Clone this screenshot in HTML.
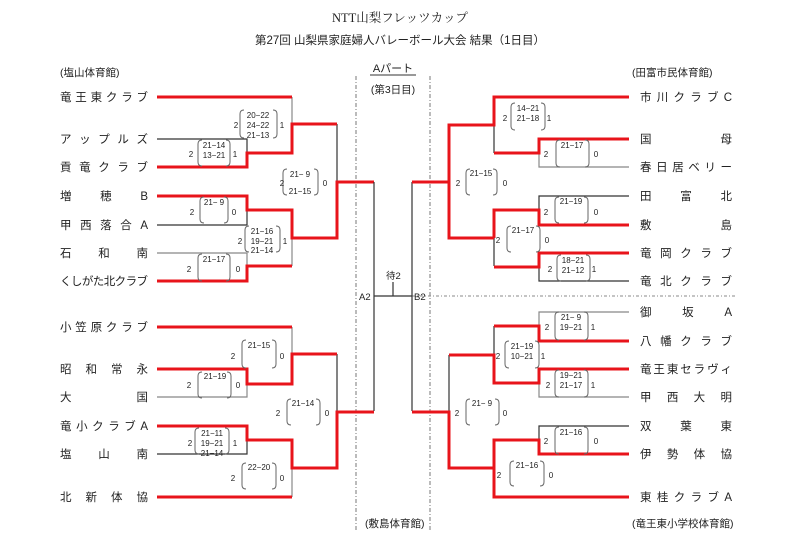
<!DOCTYPE html>
<html><head><meta charset="utf-8"><style>
html,body{margin:0;padding:0;background:#fff}
svg{display:block}
text{font-family:"Liberation Sans","Noto Sans CJK JP",sans-serif;fill:#222}
.t{font-family:"Liberation Serif","Noto Serif CJK SC",serif}
.n{font-size:11.5px}
.s{font-size:8px;fill:#333}
.r{stroke:#e8141b;stroke-width:3;fill:none}
.k{stroke:#333;stroke-width:1.2;fill:none}
.g{stroke:#888;stroke-width:1.2;fill:none}
.b{stroke:#666;stroke-width:1;fill:none}
</style></head><body>
<svg width="800" height="555" viewBox="0 0 800 555" xmlns="http://www.w3.org/2000/svg">
<text class="t" x="400" y="22" text-anchor="middle" style="font-size:12.5px">NTT山梨フレッツカップ</text>
<text x="400" y="44" text-anchor="middle" style="font-size:11.5px">第27回 山梨県家庭婦人バレーボール大会 結果（1日目）</text>
<text x="393" y="72" text-anchor="middle" style="font-size:11px">Aパート</text>
<line x1="370" y1="75" x2="416" y2="75" stroke="#333" stroke-width="1"/>
<text x="393" y="93" text-anchor="middle" style="font-size:10.5px">(第3日目)</text>
<text x="60" y="76" style="font-size:10.5px">(塩山体育館)</text>
<text x="632" y="76" style="font-size:10.5px">(田富市民体育館)</text>
<text x="365" y="527" style="font-size:10.5px">(敷島体育館)</text>
<text x="632" y="527" style="font-size:10.5px">(竜王東小学校体育館)</text>
<line x1="356" y1="76" x2="356" y2="532" stroke="#777" stroke-width="1" stroke-dasharray="4,2,1,2"/>
<line x1="430" y1="76" x2="430" y2="532" stroke="#777" stroke-width="1" stroke-dasharray="4,2,1,2"/>
<line x1="412" y1="296" x2="735" y2="296" stroke="#888" stroke-width="1" stroke-dasharray="3,2,1,2"/>

<g class="n">
<text x="60" y="101" textLength="88" lengthAdjust="spacing">竜王東クラブ</text>
<text x="60" y="143" textLength="88" lengthAdjust="spacing">アップルズ</text>
<text x="60" y="171" textLength="88" lengthAdjust="spacing">貢竜クラブ</text>
<text x="60" y="200" textLength="88" lengthAdjust="spacing">増穂B</text>
<text x="60" y="229" textLength="88" lengthAdjust="spacing">甲西落合A</text>
<text x="60" y="257" textLength="88" lengthAdjust="spacing">石和南</text>
<text x="60" y="285" textLength="88" lengthAdjust="spacing">くしがた北クラブ</text>
<text x="60" y="331" textLength="88" lengthAdjust="spacing">小笠原クラブ</text>
<text x="60" y="373" textLength="88" lengthAdjust="spacing">昭和常永</text>
<text x="60" y="401" textLength="88" lengthAdjust="spacing">大国</text>
<text x="60" y="430" textLength="88" lengthAdjust="spacing">竜小クラブA</text>
<text x="60" y="458" textLength="88" lengthAdjust="spacing">塩山南</text>
<text x="60" y="501" textLength="88" lengthAdjust="spacing">北新体協</text>
</g>
<g class="n">
<text x="640" y="101" textLength="92" lengthAdjust="spacing">市川クラブC</text>
<text x="640" y="143" textLength="92" lengthAdjust="spacing">国母</text>
<text x="640" y="171" textLength="92" lengthAdjust="spacing">春日居ベリー</text>
<text x="640" y="200" textLength="92" lengthAdjust="spacing">田富北</text>
<text x="640" y="229" textLength="92" lengthAdjust="spacing">敷島</text>
<text x="640" y="257" textLength="92" lengthAdjust="spacing">竜岡クラブ</text>
<text x="640" y="285" textLength="92" lengthAdjust="spacing">竜北クラブ</text>
<text x="640" y="316" textLength="92" lengthAdjust="spacing">御坂A</text>
<text x="640" y="345" textLength="92" lengthAdjust="spacing">八幡クラブ</text>
<text x="640" y="373" textLength="92" lengthAdjust="spacing">竜王東セラヴィ</text>
<text x="640" y="401" textLength="92" lengthAdjust="spacing">甲西大明</text>
<text x="640" y="430" textLength="92" lengthAdjust="spacing">双葉東</text>
<text x="640" y="458" textLength="92" lengthAdjust="spacing">伊勢体協</text>
<text x="640" y="501" textLength="92" lengthAdjust="spacing">東桂クラブA</text>
</g>

<path class="g" d="M292 97V124"/>
<path class="k" d="M157 139H247V153"/>
<path class="k" d="M157 225H247V210"/>
<path class="g" d="M157 253H247V266"/>
<path class="g" d="M292 238V266"/>
<path class="k" d="M337 124V182"/>
<path class="r" d="M157 97H292"/>
<path class="r" d="M157 167H247V153H292V124H337"/>
<path class="r" d="M157 196H247V210H292V238H337V182H374"/>
<path class="r" d="M157 281H247V266H292"/>
<path class="g" d="M292 327V354"/>
<path class="g" d="M157 397H247V384"/>
<path class="k" d="M157 454H247V440"/>
<path class="g" d="M292 468V497"/>
<path class="k" d="M337 354V412"/>
<path class="r" d="M157 327H292"/>
<path class="r" d="M157 369H247V384H292V354H337"/>
<path class="r" d="M157 426H247V440H292V468H337V412H374"/>
<path class="r" d="M157 497H292"/>
<path class="k" d="M374 182V411M412 182V411M374 296H412M393 282V296"/>
<text x="386" y="279" style="font-size:9.5px">待2</text>
<text x="359" y="300" style="font-size:9.5px">A2</text>
<text x="414" y="300" style="font-size:9.5px">B2</text>
<path class="k" d="M494 125V153"/>
<path class="g" d="M629 167H539V153"/>
<path class="k" d="M629 196H539V210"/>
<path class="k" d="M494 238V266"/>
<path class="k" d="M629 281H539V267"/>
<path class="r" d="M629 97H494V125H449V238H494"/>
<path class="r" d="M412 182H449"/>
<path class="r" d="M629 139H539V153H494"/>
<path class="r" d="M629 225H539V210H494V238"/>
<path class="r" d="M629 253H539V267H494"/>
<path class="g" d="M629 312H539V326"/>
<path class="k" d="M494 326V355"/>
<path class="g" d="M629 397H539V383"/>
<path class="k" d="M449 355V412"/>
<path class="k" d="M629 426H539V440"/>
<path class="r" d="M629 341H539V326H494"/>
<path class="r" d="M449 355H494V383H539V369H629"/>
<path class="r" d="M412 412H449V468H494V497H629"/>
<path class="r" d="M629 454H539V440H494V468"/>

<g class="b">
<path d="M244 110Q240 110 240 114V134Q240 138 244 138M273 110Q277 110 277 114V134Q277 138 273 138"/>
<path d="M202 140Q198 140 198 144V162Q198 166 202 166M226 140Q230 140 230 144V162Q230 166 226 166"/>
<path d="M287 169Q283 169 283 173V191Q283 195 287 195M314 169Q318 169 318 173V191Q318 195 314 195"/>
<path d="M204 197Q200 197 200 201V219Q200 223 204 223M224 197Q228 197 228 201V219Q228 223 224 223"/>
<path d="M249 226Q245 226 245 230V248Q245 252 249 252M276 226Q280 226 280 230V248Q280 252 276 252"/>
<path d="M202 254Q198 254 198 258V277Q198 281 202 281M226 254Q230 254 230 258V277Q230 281 226 281"/>
<path d="M246 340Q242 340 242 344V364Q242 368 246 368M272 340Q276 340 276 344V364Q276 368 272 368"/>
<path d="M202 372Q198 372 198 376V394Q198 398 202 398M227 372Q231 372 231 376V394Q231 398 227 398"/>
<path d="M291 399Q287 399 287 403V421Q287 425 291 425M316 399Q320 399 320 403V421Q320 425 316 425"/>
<path d="M199 428Q195 428 195 432V450Q195 454 199 454M225 428Q229 428 229 432V450Q229 454 225 454"/>
<path d="M246 463Q242 463 242 467V485Q242 489 246 489M272 463Q276 463 276 467V485Q276 489 272 489"/>
<path d="M515 103Q511 103 511 107V126Q511 130 515 130M541 103Q545 103 545 107V126Q545 130 541 130"/>
<path d="M560 140Q556 140 556 144V163Q556 167 560 167M585 140Q589 140 589 144V163Q589 167 585 167"/>
<path d="M470 169Q466 169 466 173V191Q466 195 470 195M493 169Q497 169 497 173V191Q497 195 493 195"/>
<path d="M559 197Q555 197 555 201V219Q555 223 559 223M584 197Q588 197 588 201V219Q588 223 584 223"/>
<path d="M511 226Q507 226 507 230V248Q507 252 511 252M536 226Q540 226 540 230V248Q540 252 536 252"/>
<path d="M561 255Q557 255 557 259V277Q557 281 561 281M586 255Q590 255 590 259V277Q590 281 586 281"/>
<path d="M559 312Q555 312 555 316V336Q555 340 559 340M584 312Q588 312 588 316V336Q588 340 584 340"/>
<path d="M509 341Q505 341 505 345V364Q505 368 509 368M535 341Q539 341 539 345V364Q539 368 535 368"/>
<path d="M559 370Q555 370 555 374V393Q555 397 559 397M584 370Q588 370 588 374V393Q588 397 584 397"/>
<path d="M470 399Q466 399 466 403V421Q466 425 470 425M495 399Q499 399 499 403V421Q499 425 495 425"/>
<path d="M559 427Q555 427 555 431V450Q555 454 559 454M584 427Q588 427 588 431V450Q588 454 584 454"/>
<path d="M514 461Q510 461 510 465V482Q510 486 514 486M540 461Q544 461 544 465V482Q544 486 540 486"/>
</g>
<g class="s" text-anchor="middle">
<text x="258" y="118">20−22</text><text x="258" y="128">24−22</text><text x="258" y="138">21−13</text><text x="236" y="128">2</text><text x="282" y="128">1</text>
<text x="214" y="148">21−14</text><text x="214" y="158">13−21</text><text x="191" y="157">2</text><text x="235" y="157">1</text>
<text x="300" y="177">21− 9</text><text x="300" y="194">21−15</text><text x="282" y="186">2</text><text x="325" y="186">0</text>
<text x="214" y="205">21− 9</text><text x="192" y="215">2</text><text x="234" y="215">0</text>
<text x="262" y="234">21−16</text><text x="262" y="244">19−21</text><text x="262" y="253">21−14</text><text x="240" y="244">2</text><text x="285" y="244">1</text>
<text x="214" y="262">21−17</text><text x="189" y="272">2</text><text x="238" y="272">0</text>
<text x="259" y="348">21−15</text><text x="233" y="359">2</text><text x="282" y="359">0</text>
<text x="215" y="379">21−19</text><text x="189" y="388">2</text><text x="238" y="388">0</text>
<text x="303" y="406">21−14</text><text x="278" y="416">2</text><text x="327" y="416">0</text>
<text x="212" y="436">21−11</text><text x="212" y="446">19−21</text><text x="212" y="456">21−14</text><text x="190" y="446">2</text><text x="235" y="446">1</text>
<text x="259" y="470">22−20</text><text x="233" y="481">2</text><text x="282" y="481">0</text>
<text x="528" y="111">14−21</text><text x="528" y="121">21−18</text><text x="505" y="121">2</text><text x="549" y="121">1</text>
<text x="572" y="148">21−17</text><text x="546" y="157">2</text><text x="596" y="157">0</text>
<text x="481" y="176">21−15</text><text x="458" y="186">2</text><text x="505" y="186">0</text>
<text x="571" y="204">21−19</text><text x="546" y="215">2</text><text x="596" y="215">0</text>
<text x="523" y="233">21−17</text><text x="498" y="243">2</text><text x="547" y="243">0</text>
<text x="573" y="263">18−21</text><text x="573" y="273">21−12</text><text x="550" y="272">2</text><text x="594" y="272">1</text>
<text x="571" y="320">21− 9</text><text x="571" y="330">19−21</text><text x="547" y="330">2</text><text x="593" y="330">1</text>
<text x="522" y="349">21−19</text><text x="522" y="359">10−21</text><text x="498" y="359">2</text><text x="543" y="359">1</text>
<text x="571" y="378">19−21</text><text x="571" y="388">21−17</text><text x="548" y="388">2</text><text x="593" y="388">1</text>
<text x="482" y="406">21− 9</text><text x="457" y="416">2</text><text x="505" y="416">0</text>
<text x="571" y="435">21−16</text><text x="546" y="444">2</text><text x="596" y="444">0</text>
<text x="527" y="468">21−16</text><text x="499" y="478">2</text><text x="551" y="478">0</text>
</g>
</svg>
</body></html>
